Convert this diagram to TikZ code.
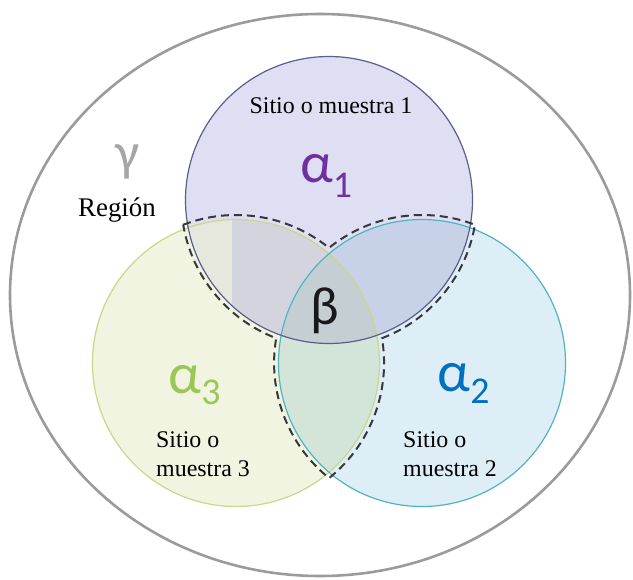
\documentclass[tikz,border=0pt]{standalone}
\usepackage{fontspec}
\setmainfont{Liberation Serif}
\newfontfamily\grkfont{Carlito}
\definecolor{bigline}{RGB}{155,155,155}
\definecolor{cafill}{RGB}{223,223,243}
\definecolor{cbfill}{RGB}{222,238,246}
\definecolor{ccfill}{RGB}{241,244,224}
\definecolor{cacfill}{RGB}{212,212,223}
\definecolor{caclight}{RGB}{230,232,222}
\definecolor{cabfill}{RGB}{199,209,231}
\definecolor{cbcfill}{RGB}{211,228,216}
\definecolor{cabcfill}{RGB}{197,207,211}
\definecolor{caline}{RGB}{90,94,140}
\definecolor{cbline}{RGB}{80,180,192}
\definecolor{ccline}{RGB}{200,216,135}
\definecolor{dashcol}{RGB}{55,55,60}
\definecolor{alphaone}{RGB}{112,48,160}
\definecolor{alphatwo}{RGB}{0,112,192}
\definecolor{alphathree}{RGB}{155,199,86}
\definecolor{gammacol}{RGB}{166,166,166}
\newcommand{\subdig}[2]{\raisebox{-#1}{\fontsize{38}{40}\selectfont #2}}
\begin{document}
\begin{tikzpicture}[x=1bp,y=-1bp,
  bigc/.style={draw=bigline, line width=2.6bp},
  dashline/.style={draw=dashcol, line width=2bp, dash pattern=on 8bp off 5bp},
  lbl/.style={inner sep=0pt, font=\fontsize{24}{28}\selectfont, text=black},
  reglbl/.style={inner sep=0pt, font=\fontsize{27}{30}\selectfont, text=black},
  gk/.style={inner sep=0pt, font=\grkfont\fontsize{58}{60}\selectfont},
  gkb/.style={inner sep=0pt, font=\grkfont\fontsize{54}{56}\selectfont}]
\useasboundingbox (0,0) rectangle (633,580);
\def\rcirc{143.5}
\def\rdash{148}
\coordinate (c1) at (329,200);
\coordinate (c2) at (422,363);
\coordinate (c3) at (236,363);
% region
\draw[bigc] (320,295) ellipse [x radius=310, y radius=281];
% single fills
\fill[ccfill] (c3) circle[radius=\rcirc];
\fill[cbfill] (c2) circle[radius=\rcirc];
\fill[cafill] (c1) circle[radius=\rcirc];
% pairwise
\begin{scope}
  \clip (c1) circle[radius=\rcirc];
  \fill[cacfill] (c3) circle[radius=\rcirc];
  \fill[cabfill] (c2) circle[radius=\rcirc];
\end{scope}
\begin{scope}
  \clip (c1) circle[radius=\rcirc];
  \clip (c3) circle[radius=\rcirc];
  \fill[caclight] (170,200) rectangle (232,360);
\end{scope}
\begin{scope}
  \clip (c2) circle[radius=\rcirc];
  \fill[cbcfill] (c3) circle[radius=\rcirc];
\end{scope}
\begin{scope}
  \clip (c1) circle[radius=\rcirc];
  \clip (c2) circle[radius=\rcirc];
  \fill[cabcfill] (c3) circle[radius=\rcirc];
\end{scope}
% borders
\draw[ccline, line width=1.2bp] (c3) circle[radius=\rcirc];
\draw[cbline, line width=1.2bp] (c2) circle[radius=\rcirc];
\draw[caline, line width=1.2bp] (c1) circle[radius=\rcirc];
% dashed outline of overlaps
\draw[dashline] ([shift={(-110.95:\rdash)}]c3)
  arc[start angle=-110.95, end angle=-51.06, radius=\rdash]
  arc[start angle=-128.94, end angle=-69.05, radius=\rdash]
  arc[start angle=9.65, end angle=69.05, radius=\rdash]
  arc[start angle=-9.65, end angle=51.06, radius=\rdash]
  arc[start angle=128.94, end angle=189.65, radius=\rdash]
  arc[start angle=110.95, end angle=170.35, radius=\rdash];
% labels
\node[lbl, anchor=base] (s1) at (331,114) {Sitio o muestra 1};
\node[lbl, anchor=base west] (s3a) at (156,447) {Sitio o};
\node[lbl, anchor=base west] (s3b) at (156,476) {muestra 3};
\node[lbl, anchor=base west] (s2a) at (403,447) {Sitio o};
\node[lbl, anchor=base west] (s2b) at (403,476) {muestra 2};
\node[reglbl, anchor=base] (reg) at (117,216) {Región};
\node[gkb, text=gammacol, anchor=base] (gam) at (128,171) {γ};
\node[gk, text=alphaone, anchor=base west] (a1) at (300,183) {α\subdig{14bp}{1}};
\node[gk, text=alphathree, anchor=base west] (a3) at (168.5,393) {α\subdig{11bp}{3}};
\node[gk, text=alphatwo, anchor=base west] (a2) at (437.5,391) {α\subdig{12bp}{2}};
\node[gkb, text=black!90, anchor=base] (beta) at (325,324) {β};
\end{tikzpicture}
\end{document}
